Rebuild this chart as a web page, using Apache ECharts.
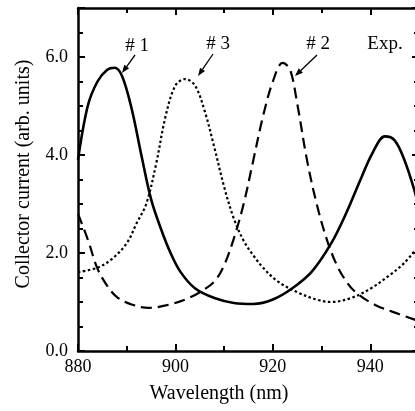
<!DOCTYPE html>
<html>
<head>
<meta charset="utf-8">
<script src="https://cdn.jsdelivr.net/npm/echarts@6/dist/echarts.min.js"></script>
<style>
html,body{margin:0;padding:0;background:#fff;}
#chart{width:415px;height:411px;}
</style>
</head>
<body>
<div id="chart"></div>
<script>
// ---- data ----
var xTicks = [880, 900, 920, 940];
var yTicks = [0.0, 2.0, 4.0, 6.0];

// Sample #1 (solid)
var s1Nm  = [880, 882, 884, 886, 887.5, 889, 891, 893, 895, 897, 899, 901, 904, 908, 912, 916, 920, 924, 928, 932, 935, 938, 940.5, 943, 945, 947, 949, 950];
var s1Val = [3.9, 5.0, 5.5, 5.74, 5.78, 5.62, 4.95, 4.0, 3.1, 2.5, 2.0, 1.62, 1.28, 1.08, 0.98, 0.96, 1.05, 1.28, 1.62, 2.2, 2.8, 3.5, 4.05, 4.38, 4.3, 3.9, 3.3, 2.9];

// Sample #3 (dotted)
var s3Nm  = [880, 884, 887, 890, 892, 894, 896, 898, 900, 902, 904, 906, 908, 910, 912, 914, 916, 918, 921, 925, 929, 932, 936, 940, 944, 947, 950];
var s3Val = [1.61, 1.7, 1.88, 2.2, 2.6, 3.0, 3.8, 4.8, 5.42, 5.55, 5.42, 4.9, 4.15, 3.35, 2.7, 2.25, 1.95, 1.7, 1.42, 1.2, 1.05, 1.0, 1.08, 1.27, 1.55, 1.8, 2.15];

// Sample #2 (dashed)
var s2Nm  = [880, 882, 884, 886, 888, 891, 894.5, 898, 902, 905, 908, 910, 912, 914, 916, 918, 920, 922, 923.5, 925, 927, 929, 931, 933, 935, 937, 941, 946, 950];
var s2Val = [2.8, 2.28, 1.68, 1.33, 1.1, 0.95, 0.88, 0.93, 1.05, 1.2, 1.42, 1.75, 2.3, 3.0, 3.9, 4.8, 5.5, 5.88, 5.75, 5.05, 3.9, 3.0, 2.3, 1.78, 1.43, 1.2, 0.94, 0.75, 0.61];

var labels = ['# 1', '# 3', '# 2', 'Exp.'];

function zip(a, b) { return a.map(function (v, i) { return [v, b[i]]; }); }

var FONT = '"Liberation Serif", "DejaVu Serif", serif';
var chart = echarts.init(document.getElementById('chart'), null, {renderer: 'canvas'});

function axisCommon(showLabel, isX) {
  return {
    axisLine: {show: true, onZero: false, lineStyle: {color: '#000', width: 2.5}},
    axisTick: {show: true, inside: true, length: 7, lineStyle: {color: '#000', width: 2}},
    minorTick: {show: true, splitNumber: isX ? 2 : 4, length: 5, lineStyle: {color: '#000', width: 2}},
    splitLine: {show: false},
    minorSplitLine: {show: false},
    axisLabel: {
      show: showLabel,
      color: '#000',
      fontFamily: FONT,
      fontSize: 18,
      margin: isX ? 7 : 10,
      showMaxLabel: false,
      formatter: function (v) {
        if (isX) { return xTicks.indexOf(v) >= 0 ? String(v) : ''; }
        return yTicks.indexOf(v) >= 0 ? v.toFixed(1) : '';
      }
    }
  };
}

var xb = Object.assign({type: 'value', min: 880, max: 950, interval: 20, position: 'bottom'}, axisCommon(true, true));
var xt = Object.assign({type: 'value', min: 880, max: 950, interval: 20, position: 'top'}, axisCommon(false, true));
var yl = Object.assign({type: 'value', min: 0, max: 7, interval: 2, position: 'left'}, axisCommon(true, false));
var yr = Object.assign({type: 'value', min: 0, max: 7, interval: 2, position: 'right'}, axisCommon(false, false));

function arrow(x1, y1, x2, y2) {
  var ang = Math.atan2(y2 - y1, x2 - x1);
  var L = 8, W = 3;
  var bx = x2 - L * Math.cos(ang), by = y2 - L * Math.sin(ang);
  var px = -Math.sin(ang) * W, py = Math.cos(ang) * W;
  return [
    {type: 'line', shape: {x1: x1, y1: y1, x2: bx, y2: by}, style: {stroke: '#000', lineWidth: 1.3}, z: 100},
    {type: 'polygon', shape: {points: [[x2, y2], [bx + px, by + py], [bx - px, by - py]]}, style: {fill: '#000'}, z: 100}
  ];
}

var textStyle = {fill: '#000', font: '19px ' + FONT};
var graphics = [
  {type: 'text', x: 137, y: 46, style: Object.assign({text: labels[0], align: 'center', verticalAlign: 'middle'}, textStyle), z: 100},
  {type: 'text', x: 218, y: 44, style: Object.assign({text: labels[1], align: 'center', verticalAlign: 'middle'}, textStyle), z: 100},
  {type: 'text', x: 318, y: 44, style: Object.assign({text: labels[2], align: 'center', verticalAlign: 'middle'}, textStyle), z: 100},
  {type: 'text', x: 385, y: 44, style: Object.assign({text: labels[3], align: 'center', verticalAlign: 'middle'}, textStyle), z: 100},
  {type: 'text', x: 219, y: 394, style: {text: 'Wavelength (nm)', align: 'center', verticalAlign: 'middle', fill: '#000', font: '20px ' + FONT}, z: 100},
  {type: 'text', x: 24, y: 174, rotation: Math.PI / 2, style: {text: 'Collector current (arb. units)', align: 'center', verticalAlign: 'middle', fill: '#000', font: '20px ' + FONT}, z: 100}
].concat(arrow(135, 55, 122, 73), arrow(213, 54, 198, 76), arrow(317, 55, 295, 76));

chart.setOption({
  animation: false,
  backgroundColor: '#fff',
  grid: {left: 78, top: 8, right: -4, bottom: 60, containLabel: false, outerBoundsMode: 'none'},
  xAxis: [xb, xt],
  yAxis: [yl, yr],
  series: [
    {type: 'line', data: zip(s1Nm, s1Val), smooth: 0.35, showSymbol: false, symbol: 'none',
     lineStyle: {color: '#000', width: 2.6, type: 'solid'}},
    {type: 'line', data: zip(s3Nm, s3Val), smooth: 0.35, showSymbol: false, symbol: 'none',
     lineStyle: {color: '#000', width: 2.2, type: [2.5, 2.5]}},
    {type: 'line', data: zip(s2Nm, s2Val), smooth: 0.35, showSymbol: false, symbol: 'none',
     lineStyle: {color: '#000', width: 2.2, type: [11, 6]}}
  ],
  graphic: graphics
});
</script>
</body>
</html>
